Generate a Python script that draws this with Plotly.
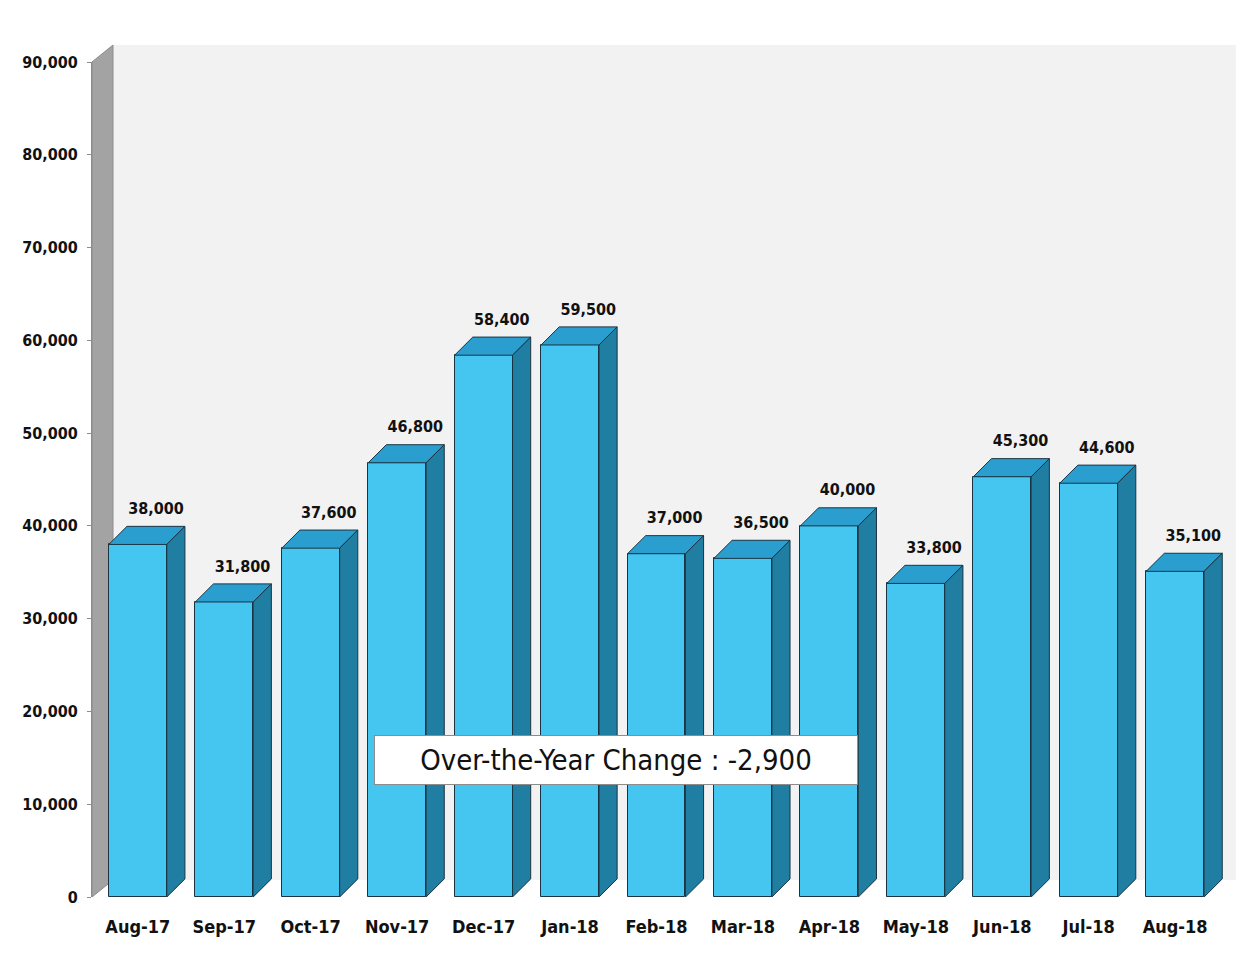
import plotly.graph_objects as go

months = ["Aug-17", "Sep-17", "Oct-17", "Nov-17", "Dec-17", "Jan-18", "Feb-18",
          "Mar-18", "Apr-18", "May-18", "Jun-18", "Jul-18", "Aug-18"]
values = [38000, 31800, 37600, 46800, 58400, 59500, 37000,
          36500, 40000, 33800, 45300, 44600, 35100]
y_ticks = [0, 10000, 20000, 30000, 40000, 50000, 60000, 70000, 80000, 90000]
change_text = "Over-the-Year Change : -2,900"

FONT = "Liberation Sans Narrow, Arial Narrow, DejaVu Sans Condensed, sans-serif"
FRONT = "#45c6f1"
TOP = "#2a9fcf"
SIDE = "#1f7ea2"
EDGE = "#1a3443"

xs = list(range(len(months)))
hw = 0.335     # half bar width (category units)
dx = 0.21      # depth in x (category units)
dy = 1950      # depth in y (data units)

XR = [-0.53, 12.6]
PLOT_W = 1135
PLOT_H = 835

fig = go.Figure()

fig.add_trace(go.Bar(
    x=xs, y=values, width=2 * hw,
    marker=dict(color=FRONT, line=dict(color=EDGE, width=1)),
    hoverinfo="skip", showlegend=False,
))

# top faces
tx, ty = [], []
for x, v in zip(xs, values):
    tx += [x - hw, x - hw + dx, x + hw + dx, x + hw, x - hw, None]
    ty += [v, v + dy, v + dy, v, v, None]
fig.add_trace(go.Scatter(x=tx, y=ty, mode="lines", fill="toself",
                         fillcolor=TOP, line=dict(color=EDGE, width=1),
                         hoverinfo="skip", showlegend=False))

# side faces
sx, sy = [], []
for x, v in zip(xs, values):
    sx += [x + hw, x + hw + dx, x + hw + dx, x + hw, x + hw, None]
    sy += [0, dy, v + dy, v, 0, None]
fig.add_trace(go.Scatter(x=sx, y=sy, mode="lines", fill="toself",
                         fillcolor=SIDE, line=dict(color=EDGE, width=1),
                         hoverinfo="skip", showlegend=False))

# value labels
fig.add_trace(go.Scatter(
    x=[x + dx for x in xs], y=[v + dy + 900 for v in values],
    mode="text", text=[f"{v:,}" for v in values],
    textposition="top center", cliponaxis=False,
    textfont=dict(family=FONT, size=16, color="#111111", weight="bold"),
    hoverinfo="skip", showlegend=False,
))

# 3D walls (decoration)
px = 21 / PLOT_W
py = 17 / PLOT_H
fig.add_shape(type="rect", xref="paper", yref="paper",
              x0=px, x1=(1236 - 92) / PLOT_W, y0=py, y1=1 + py,
              fillcolor="#f2f2f2", line=dict(width=0), layer="below")
fig.add_shape(type="path", xref="paper", yref="paper",
              path=f"M 0 0 L 0 1 L {px} {1 + py} L {px} {py} Z",
              fillcolor="#a3a3a3", line=dict(color="#8c8c8c", width=1), layer="below")

fig.add_annotation(
    x=5.53, y=14800, xref="x", yref="y",
    text=change_text, showarrow=False,
    font=dict(family=FONT, size=29, color="#111111"),
    bgcolor="white", bordercolor="#8c8c8c", borderwidth=1,
    width=480, height=46,
)

fig.update_layout(
    width=1238, height=956,
    margin=dict(l=84, r=1238 - 84 - PLOT_W, t=54, b=956 - 54 - PLOT_H),
    paper_bgcolor="white", plot_bgcolor="rgba(0,0,0,0)",
    bargap=0,
    xaxis=dict(range=XR, tickvals=xs, ticktext=months,
               showgrid=False, zeroline=False, showline=False, ticks="",
               ticklabelstandoff=17,
               tickfont=dict(family=FONT, size=18, color="#111111", weight="bold")),
    yaxis=dict(range=[0, 90000], tickvals=y_ticks, tickformat=",d",
               showgrid=False, zeroline=False, showline=True, linecolor="#8c8c8c",
               ticks="outside", ticklen=4, tickcolor="#8c8c8c",
               ticklabelstandoff=6,
               tickfont=dict(family=FONT, size=16, color="#111111", weight="bold")),
)

fig.write_html("out.html")
